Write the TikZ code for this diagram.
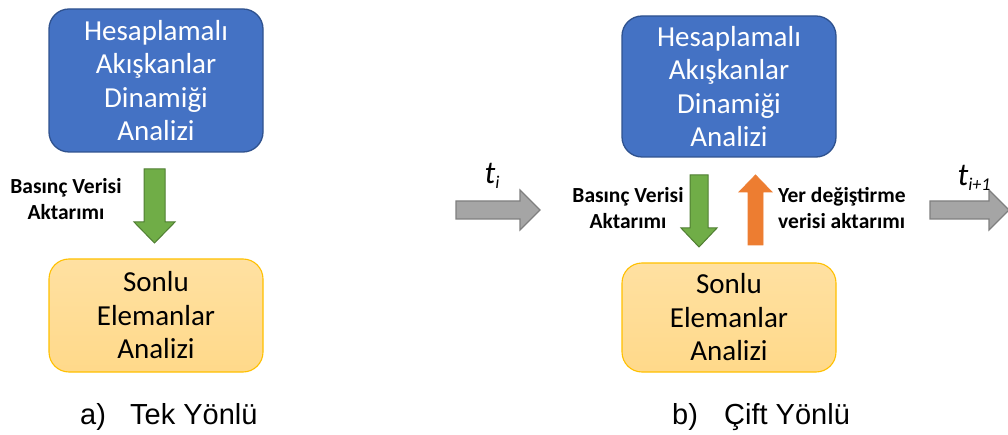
\documentclass[tikz,border=0pt]{standalone}
\usepackage{fontspec}
\setmainfont{Carlito}
\newfontfamily\arialf{Liberation Sans}
\definecolor{cfdblue}{HTML}{4472C4}
\definecolor{cfdborder}{HTML}{2F528F}
\definecolor{feafill}{HTML}{FFD98A}
\definecolor{feaborder}{HTML}{FFC000}
\definecolor{greenA}{HTML}{70AD47}
\definecolor{greenB}{HTML}{507E32}
\definecolor{orangeA}{HTML}{ED7D31}
\definecolor{grayA}{HTML}{A5A5A5}
\definecolor{grayB}{HTML}{7F7F7F}
\newcommand{\tsub}[2]{\textit{#1}\raisebox{-0.35ex}{\fontsize{18}{18}\selectfont\textit{#2}}}
\tikzset{
  cfdbox/.style={draw=cfdborder, line width=1.3pt, fill=cfdblue, rounded corners=20pt, text=white,
    minimum width=214pt, align=center, inner sep=0pt, font=\fontsize{29}{33.5}\selectfont},
  feabox/.style={draw=feaborder, line width=1.1pt, top color=feafill!80!white, bottom color=feafill, rounded corners=20pt, text=black,
    minimum width=214pt, align=center, inner sep=0pt, font=\fontsize{29}{33.5}\selectfont},
  greenarrow/.style={draw=greenB, line width=1pt, fill=greenA},
  orangearrow/.style={draw=orangeA, line width=0.8pt, fill=orangeA},
  grayarrow/.style={draw=grayB, line width=1.2pt, fill=grayA},
  boldlabel/.style={font=\bfseries\fontsize{21.5}{26}\selectfont, align=center, inner sep=0pt},
  tlabel/.style={font=\fontsize{32}{34}\selectfont, inner sep=0pt},
  caption/.style={font=\arialf\fontsize{29}{32}\selectfont, anchor=base west, inner sep=0pt}
}
\begin{document}
\begin{tikzpicture}[x=1pt,y=-1pt]
\useasboundingbox (0,0) rectangle (1008,435);
% left
\node[cfdbox, minimum height=143pt] (cfdA) at (156,80.5) {Hesaplamalı\\Akışkanlar\\Dinamiği\\Analizi};
\node[feabox, minimum height=113pt] (feaA) at (156,315.5) {Sonlu\\Elemanlar\\Analizi};
\draw[greenarrow] (144,169) -- (165,169) -- (165,222) -- (175,222) -- (154.5,243) -- (134,222) -- (144,222) -- cycle;
\node[boldlabel] (bvA) at (66,199) {Basınç Verisi\\Aktarımı};
\node[caption] (capA) at (80,424) {a)};
\node[caption] (capA2) at (130,424) {Tek Yönlü};
% middle gray arrow
\draw[grayarrow] (456,201) -- (520,201) -- (520,190) -- (540,210) -- (520,230) -- (520,219) -- (456,219) -- cycle;
\node[tlabel] (ti) at (492,176) {\tsub{t}{i}};
% right
\node[cfdbox, minimum height=141pt] (cfdB) at (729,86.5) {Hesaplamalı\\Akışkanlar\\Dinamiği\\Analizi};
\node[feabox, minimum height=109pt] (feaB) at (729,317.5) {Sonlu\\Elemanlar\\Analizi};
\draw[greenarrow] (690,175) -- (708,175) -- (708,228) -- (717,228) -- (699,247) -- (681,228) -- (690,228) -- cycle;
\draw[orangearrow] (748,245) -- (763,245) -- (763,192) -- (772,192) -- (755.5,175) -- (739,192) -- (748,192) -- cycle;
\node[boldlabel] (bvB) at (628,208) {Basınç Verisi\\Aktarımı};
\node[boldlabel, align=left, anchor=west] (ydB) at (778,208) {Yer değiştirme\\verisi aktarımı};
\draw[grayarrow] (930,201) -- (989,201) -- (989,190) -- (1009,210) -- (989,230) -- (989,219) -- (930,219) -- cycle;
\node[tlabel] (ti1) at (974,178) {\tsub{t}{i+1}};
\node[caption] (capB) at (672,424) {b)};
\node[caption] (capB2) at (724,424) {Çift Yönlü};
\end{tikzpicture}
\end{document}
